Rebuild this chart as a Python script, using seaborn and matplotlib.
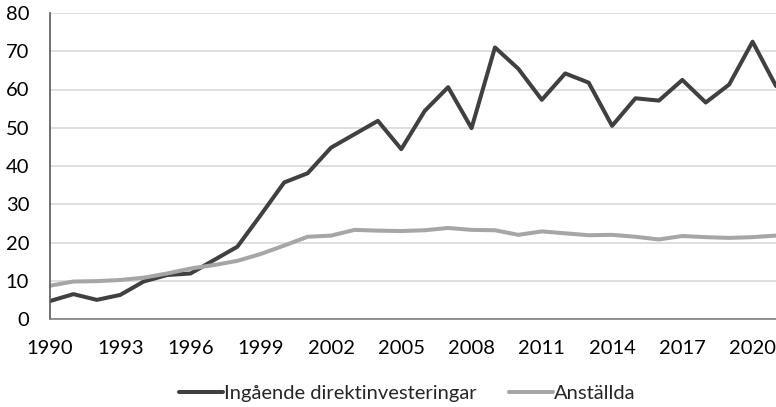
import pandas as pd
import matplotlib
matplotlib.use("Agg")
import matplotlib.pyplot as plt
import seaborn as sns

# Data
years = list(range(1990, 2022))
direktinvesteringar = [4.7, 6.5, 5.0, 6.3, 9.8, 11.5, 11.9, 15.4, 18.9, 27.2,
                       35.7, 38.1, 44.8, 48.3, 51.8, 44.4, 54.4, 60.6, 49.9, 71.0,
                       65.4, 57.3, 64.2, 61.8, 50.5, 57.7, 57.1, 62.5, 56.6, 61.3,
                       72.5, 60.9]
anstallda = [8.7, 9.8, 9.9, 10.2, 10.8, 11.9, 13.2, 14.1, 15.2, 17.0,
             19.2, 21.5, 21.8, 23.3, 23.1, 23.0, 23.2, 23.8, 23.3, 23.2,
             22.0, 22.9, 22.4, 21.9, 22.0, 21.5, 20.8, 21.7, 21.4, 21.2,
             21.4, 21.8]
series_names = ["Ingående direktinvesteringar", "Anställda"]
colors = ["#404040", "#a6a6a6"]
xticks = list(range(1990, 2022, 3))
yticks = list(range(0, 90, 10))

df = pd.concat([
    pd.DataFrame({"year": years, "value": direktinvesteringar, "serie": series_names[0]}),
    pd.DataFrame({"year": years, "value": anstallda, "serie": series_names[1]}),
])

sns.set_style("white")
plt.rcParams["font.family"] = ["Lato", "DejaVu Sans"]

fig = plt.figure(figsize=(7.76, 4.07), dpi=100)
ax = fig.add_axes([50 / 776, 1 - 319 / 407, 1 - 50 / 776, 306 / 407])

sns.lineplot(data=df, x="year", y="value", hue="serie", palette=colors,
             linewidth=2.9, ax=ax, legend=False)

ax.set_xlim(1990, 2021)
ax.set_ylim(0, 80)
ax.set_xticks(xticks)
ax.set_yticks(yticks)
ax.set_xlabel("")
ax.set_ylabel("")
ax.grid(axis="y", color="#d9d9d9", linewidth=1.2)
ax.set_axisbelow(True)

for side in ["top", "right"]:
    ax.spines[side].set_visible(False)
ax.spines["left"].set_color("#595959")
ax.spines["bottom"].set_color("#7f7f7f")
ax.spines["left"].set_linewidth(1.2)
ax.spines["bottom"].set_linewidth(1.2)

ax.tick_params(axis="x", direction="in", length=5, width=1, color="#7f7f7f",
               pad=15, labelsize=14.5, labelcolor="#000000")
ax.tick_params(axis="y", length=0, pad=15, labelsize=14.5, labelcolor="#000000")

handles = [plt.Line2D([], [], color=c, linewidth=2.9) for c in colors]
fig.legend(handles, series_names, loc="center", bbox_to_anchor=(0.525, 1 - 393 / 407),
           ncol=2, frameon=False, fontsize=14.5, handlelength=2.2,
           handletextpad=0.05, columnspacing=1.6)

fig.savefig("out.png", dpi=100)
